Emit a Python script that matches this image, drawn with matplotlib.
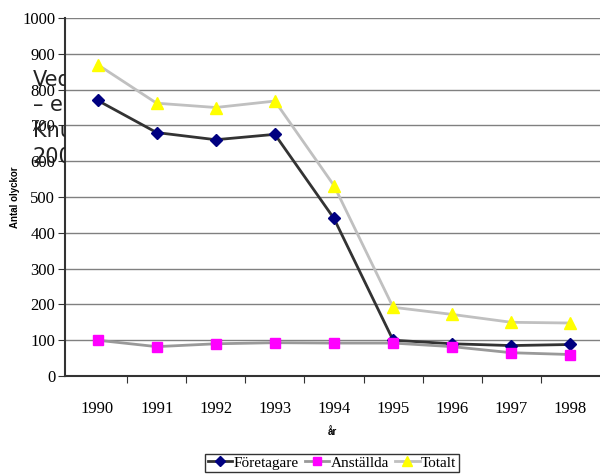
import matplotlib
matplotlib.use("Agg")
import matplotlib.pyplot as plt
from matplotlib.patches import Rectangle
from matplotlib.lines import Line2D

years = ["1990", "1991", "1992", "1993", "1994", "1995", "1996", "1997", "1998"]
foretagare = [770, 680, 660, 675, 440, 100, 90, 85, 88]
anstallda = [100, 82, 90, 93, 92, 92, 82, 65, 60]
totalt = [870, 762, 750, 768, 532, 192, 172, 150, 148]
yticks = [0, 100, 200, 300, 400, 500, 600, 700, 800, 900, 1000]

fig = plt.figure(figsize=(6.0, 4.74), dpi=100)
W, H = 600, 474
ax_l, ax_r, ax_t, ax_b = 65, 600, 18, 376
ax = fig.add_axes([ax_l / W, 1 - ax_b / H, (ax_r - ax_l) / W, (ax_b - ax_t) / H])

serif = "Liberation Serif"
x = list(range(len(years)))
ax.plot(x, foretagare, color="#333333", lw=2, marker="D", ms=6, mfc="#000080", mec="#000080", zorder=3)
ax.plot(x, anstallda, color="#999999", lw=2, marker="s", ms=7, mfc="#FF00FF", mec="#FF00FF", zorder=3)
ax.plot(x, totalt, color="#C0C0C0", lw=2, marker="^", ms=8, mfc="#FFFF00", mec="#FFFF00", zorder=3)

ax.set_xlim(-0.55, len(years) - 0.5)
ax.set_ylim(0, 1000)
ax.set_yticks(yticks)
ax.set_yticklabels([str(v) for v in yticks], family=serif, fontsize=12)
ax.set_xticks([i + 0.5 for i in range(len(years) - 1)])
ax.set_xticklabels([])
ax.set_xticks(x, minor=True)
ax.set_xticklabels(years, minor=True, family=serif, fontsize=12)
ax.tick_params(axis="x", which="minor", length=0, pad=18)
ax.tick_params(axis="x", which="major", length=5, direction="out", color="#333333")
ax.tick_params(axis="y", length=5, direction="out", color="#333333", pad=2)
ax.grid(axis="y", color="#808080", lw=1)
ax.set_axisbelow(True)
for s in ["top", "right"]:
    ax.spines[s].set_visible(False)
for s in ["left", "bottom"]:
    ax.spines[s].set_color("#333333")
    ax.spines[s].set_linewidth(1.5)

fig.text(15 / W, 1 - 197 / H, "Antal olyckor", rotation=90, ha="center", va="center",
         fontsize=7, fontweight="bold", family="Liberation Sans")
fig.text(332 / W, 1 - 432 / H, "år", ha="center", va="center",
         fontsize=7, fontweight="bold", family="Liberation Sans")

# stray overlay text clipped at the axis line
clip = Rectangle((0, 0), ax_l / W, 1, transform=fig.transFigure)
for txt, yy in [("Vedtransporter", 80), ("– en studie", 105), ("Knut Olsson", 131), ("2000", 157)]:
    t = fig.text(33 / W, 1 - yy / H, txt, ha="left", va="center", fontsize=15,
                 family="DejaVu Sans", color="#222222")
    t.set_clip_path(clip)

handles = [
    Line2D([], [], color="#333333", lw=2, marker="D", ms=5, mfc="#000080", mec="#000080"),
    Line2D([], [], color="#999999", lw=2, marker="s", ms=6, mfc="#FF00FF", mec="#FF00FF"),
    Line2D([], [], color="#C0C0C0", lw=2, marker="^", ms=7, mfc="#FFFF00", mec="#FFFF00"),
]
leg = fig.legend(handles, ["Företagare", "Anställda", "Totalt"], loc="center",
                 bbox_to_anchor=(332 / W, 1 - 463 / H), ncol=3, frameon=True,
                 prop={"family": serif, "size": 11}, handlelength=1.6, handletextpad=0.1,
                 columnspacing=0.4, borderpad=0.15, fancybox=False, borderaxespad=0)
leg.get_frame().set_edgecolor("black")
leg.get_frame().set_linewidth(1)

fig.savefig("out.png", dpi=100)
